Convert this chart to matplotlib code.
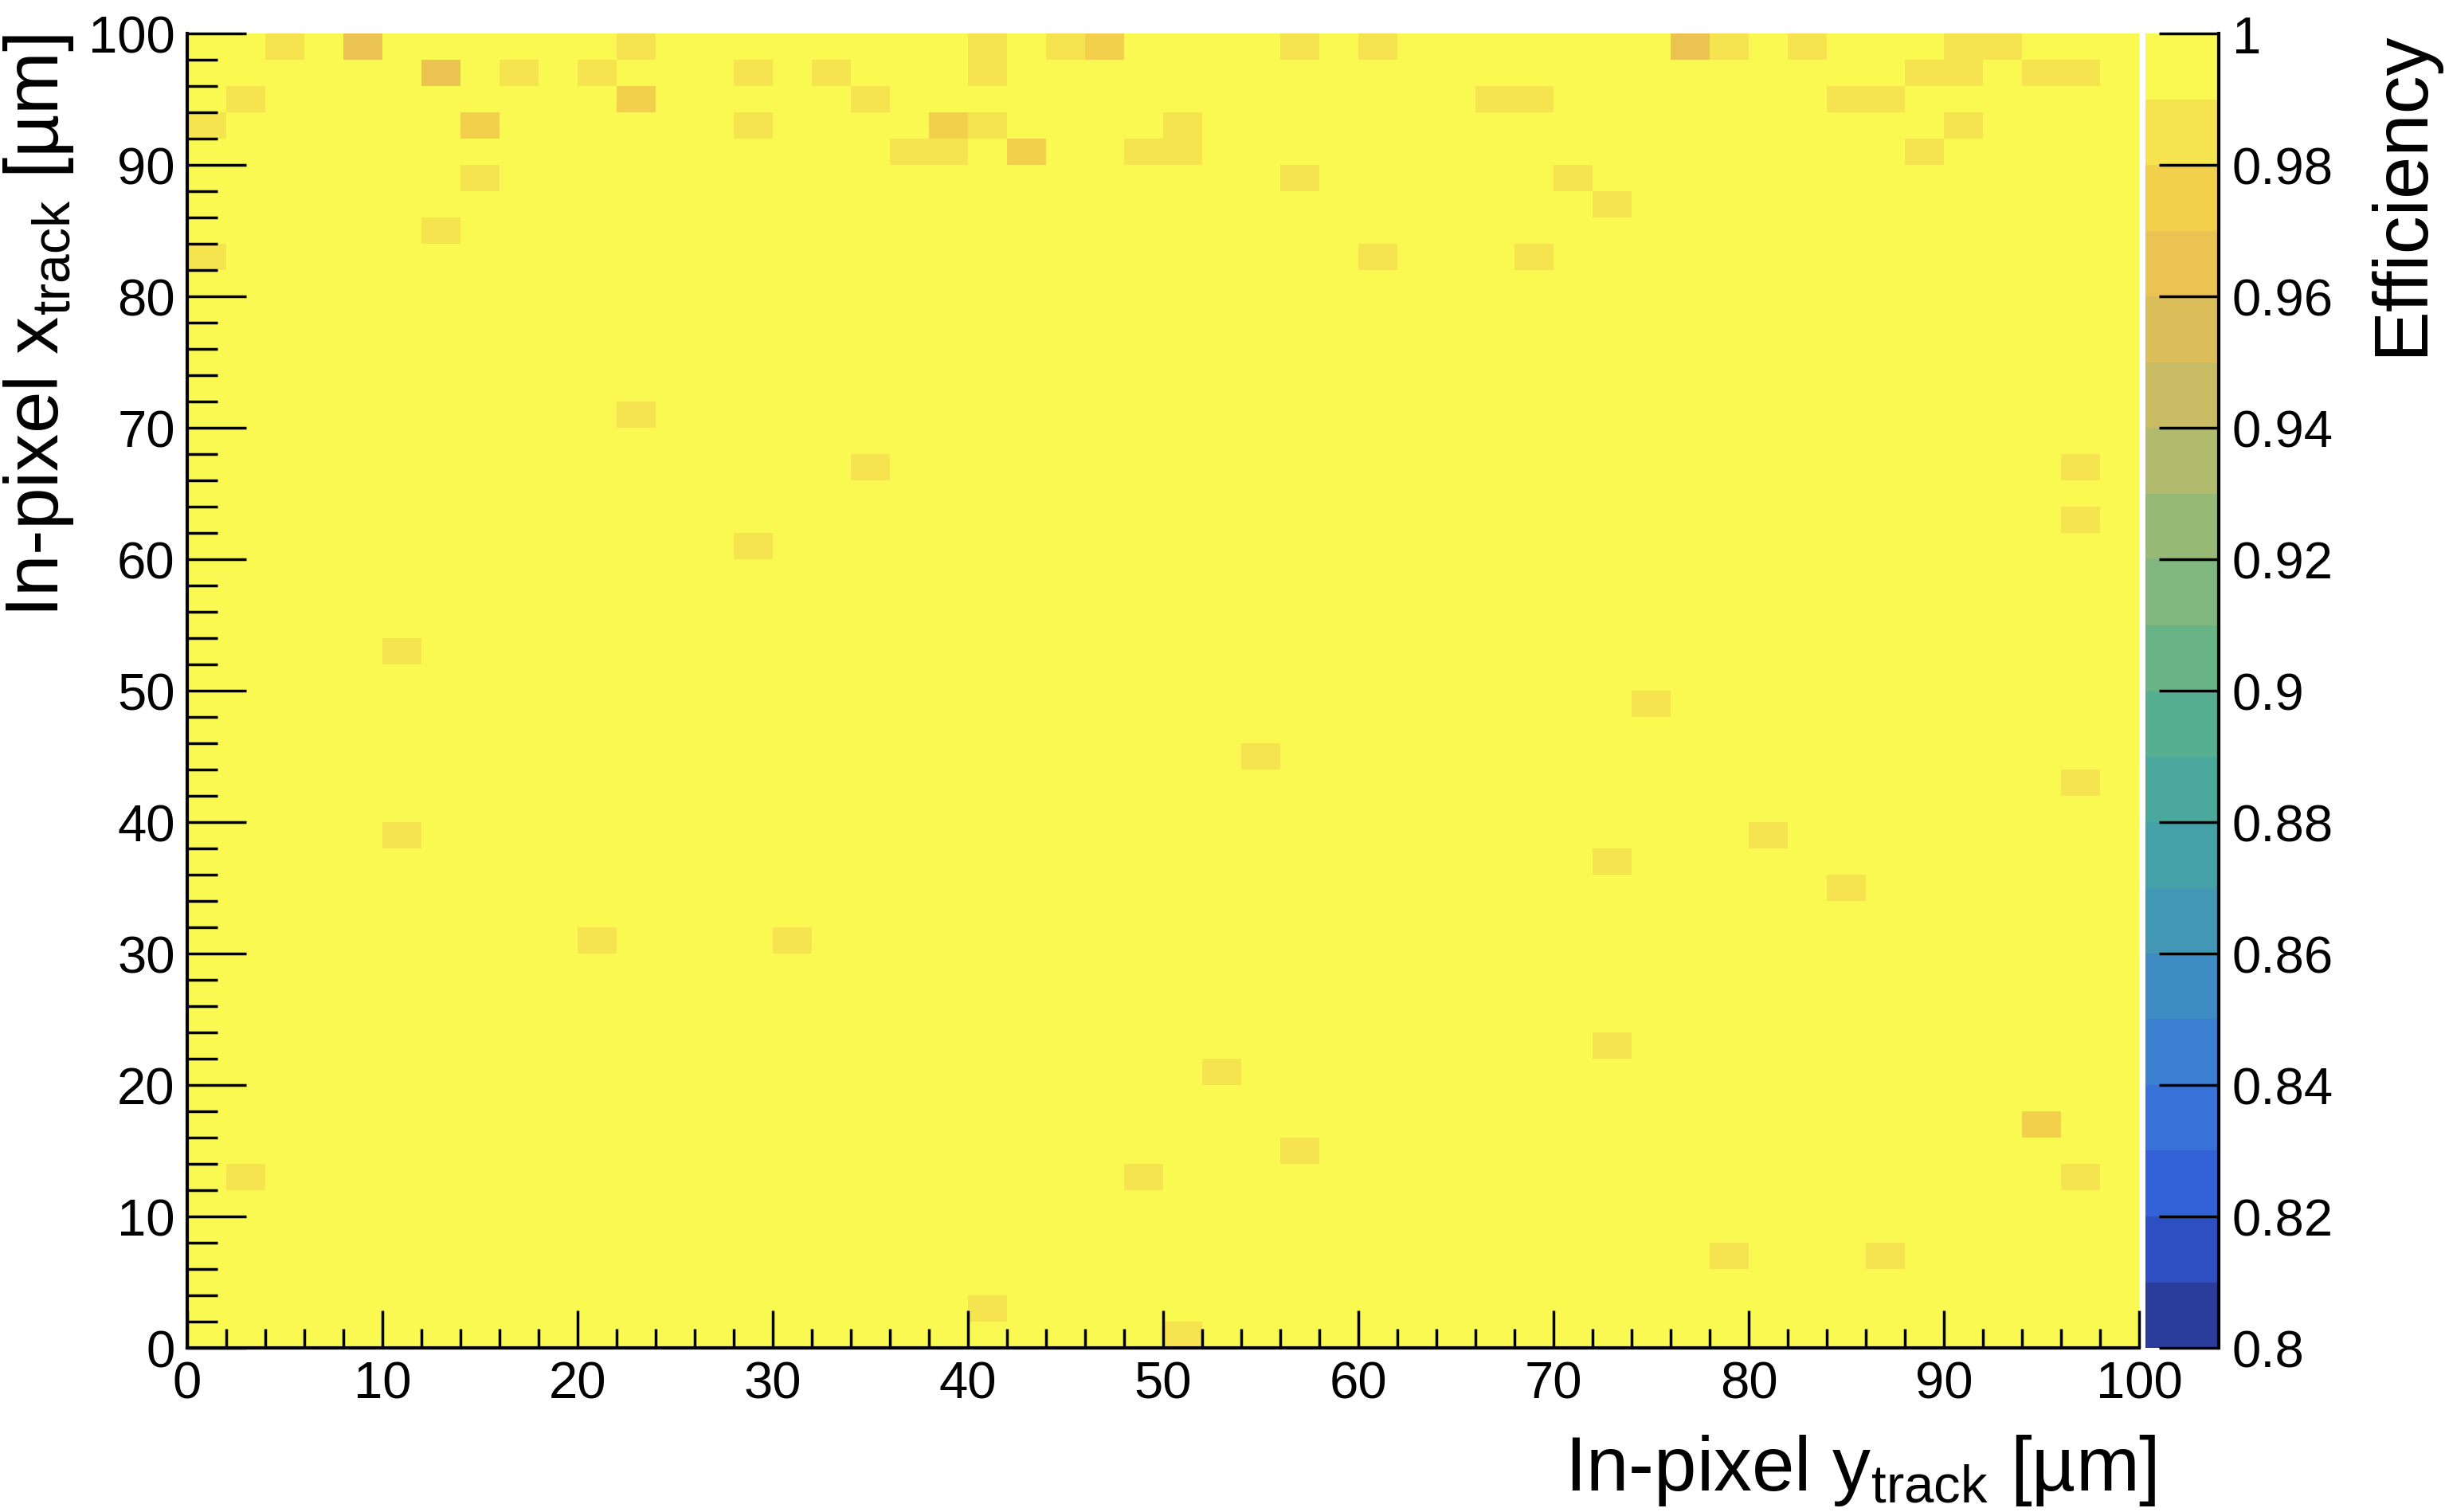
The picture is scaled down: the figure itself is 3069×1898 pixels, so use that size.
"""
In-pixel efficiency map (ROOT-style COLZ histogram) rebuilt with matplotlib.
"""
import numpy as np
import matplotlib
matplotlib.use("Agg")
import matplotlib.pyplot as plt
from matplotlib.colors import ListedColormap, Normalize
from matplotlib.ticker import MultipleLocator

plt.rcParams['font.family'] = ['Liberation Sans', 'DejaVu Sans']
plt.rcParams['mathtext.fontset'] = 'custom'
plt.rcParams['mathtext.rm'] = 'Liberation Sans'
plt.rcParams['mathtext.it'] = 'Liberation Sans:italic'
plt.rcParams['mathtext.bf'] = 'Liberation Sans:bold'

# 2 um binning over the 100 x 100 um pixel
bin_edges = np.arange(0, 101, 2)
full_eff = 1.0

# bins below full efficiency: y_track centre (horizontal), x_track centre (vertical), efficiency
low_ytrack = [5, 9, 23, 41, 45, 47, 57, 61, 77, 79, 83, 91, 93,
              13, 17, 21, 29, 33, 41, 89, 91, 95, 97,
              3, 23, 35, 67, 69, 85, 87,
              1, 15, 29, 39, 41, 51, 91,
              37, 39, 43, 49, 51, 89,
              15, 57, 71,
              73,
              13,
              1, 61, 69,
              23, 35, 97, 97, 29, 11, 75, 55, 97, 11, 81, 73, 85, 21, 31,
              73, 53, 95, 57, 3, 49, 97, 79, 87, 41, 51]
low_xtrack = [99] * 13 + [97] * 10 + [95] * 7 + [93] * 7 + [91] * 6 + [89] * 3 + [87] + [85] + [83] * 3 + \
             [71, 67, 67, 63, 61, 53, 49, 45, 43, 39, 39, 37, 35, 31, 31,
              23, 21, 17, 15, 13, 13, 13, 7, 7, 3, 1]
low_eff = [0.985, 0.965, 0.985, 0.985, 0.985, 0.975, 0.985, 0.985, 0.965, 0.985, 0.985, 0.985, 0.985,
           0.965, 0.985, 0.985, 0.985, 0.985, 0.985, 0.985, 0.985, 0.985, 0.985,
           0.985, 0.975, 0.985, 0.985, 0.985, 0.985, 0.985,
           0.985, 0.975, 0.985, 0.975, 0.985, 0.985, 0.985,
           0.985, 0.985, 0.975, 0.985, 0.985, 0.985,
           0.985, 0.985, 0.985,
           0.985,
           0.985,
           0.985, 0.985, 0.985,
           0.985, 0.985, 0.985, 0.985, 0.985, 0.985, 0.985, 0.985, 0.985, 0.985, 0.985, 0.985, 0.985, 0.985, 0.985,
           0.985, 0.985, 0.975, 0.985, 0.985, 0.985, 0.985, 0.985, 0.985, 0.985, 0.985]

eff_ticks = [0.80, 0.82, 0.84, 0.86, 0.88, 0.90, 0.92, 0.94, 0.96, 0.98, 1.00]

# 20 contour colours, 0.80 -> 1.00
palette = ['#2b3d9c', '#2e4fc2', '#3262d5', '#3872d8', '#3b80d0', '#3e8cc3', '#4297b5', '#45a1a8',
           '#4aa99c', '#56af90', '#68b486', '#7fb77e', '#97b976', '#b0bb6d', '#c8bb63', '#dbbe5a',
           '#eac352', '#f3d04c', '#f5e34f', '#f9f952']

W, H = 3069, 1899
fig = plt.figure(figsize=(W / 100, H / 100), dpi=100)

left, right, top, bottom = 235, 2685, 43, 1693
ax = fig.add_axes([left / W, 1 - bottom / H, (right - left) / W, (bottom - top) / H])
cax = fig.add_axes([2693 / W, 1 - bottom / H, 92 / W, (bottom - top) / H])

eff = np.full((len(bin_edges) - 1, len(bin_edges) - 1), full_eff)
for yt, xt, v in zip(low_ytrack, low_xtrack, low_eff):
    eff[xt // 2, yt // 2] = v

cmap = ListedColormap(palette)
norm = Normalize(vmin=0.8, vmax=1.0)
mesh = ax.pcolormesh(bin_edges, bin_edges, eff, cmap=cmap, norm=norm,
                     shading='flat', antialiased=False, edgecolors='none')

ax.set_xlim(0, 100)
ax.set_ylim(0, 100)
ax.xaxis.set_major_locator(MultipleLocator(10))
ax.xaxis.set_minor_locator(MultipleLocator(2))
ax.yaxis.set_major_locator(MultipleLocator(10))
ax.yaxis.set_minor_locator(MultipleLocator(2))
ax.tick_params(axis='x', which='major', direction='in', length=34, width=2.5,
               labelsize=47, pad=11, top=False)
ax.tick_params(axis='x', which='minor', direction='in', length=17, width=2.5, top=False)
ax.tick_params(axis='y', which='major', direction='in', length=53, width=2.5,
               labelsize=47, pad=11, right=False)
ax.tick_params(axis='y', which='minor', direction='in', length=27, width=2.5, right=False)
for side in ('top', 'right'):
    ax.spines[side].set_visible(False)
for side in ('left', 'bottom'):
    ax.spines[side].set_linewidth(3)

cbar = fig.colorbar(mesh, cax=cax)
cbar.outline.set_visible(False)
cbar.set_ticks(eff_ticks)
cbar.set_ticklabels(['%g' % t for t in eff_ticks])
cbar.minorticks_off()
cax.spines['right'].set_visible(True)
cax.spines['right'].set_linewidth(3)
cax.tick_params(direction='in', length=54, width=2.5, labelsize=47, pad=12,
                right=True, left=False)

fig.text(2707 / W, 1 - 1871 / H, r'In-pixel $\mathrm{y}_{\mathrm{track}}$ [µm]',
         fontsize=69, ha='right', va='baseline')
fig.text(49 / W, 1 - 43 / H, r'In-pixel $\mathrm{x}_{\mathrm{track}}$ [µm]',
         fontsize=68, rotation=90, ha='center', va='top')
fig.text(3015 / W, 1 - 38 / H, 'Efficiency', fontsize=69, rotation=90, ha='center', va='top')

fig.savefig('out.png', dpi=100)
plt.close(fig)
